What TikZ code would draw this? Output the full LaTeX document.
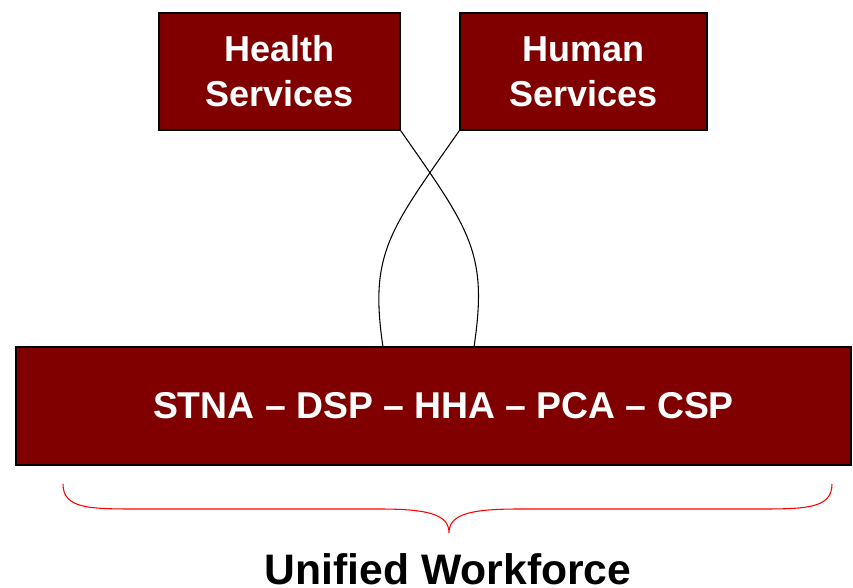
\documentclass[tikz,border=0pt]{standalone}
\usepackage{fontspec}
\setmainfont{Liberation Sans}
\usepackage{tikz}
\usetikzlibrary{shadows}
\definecolor{maroon}{RGB}{128,0,0}
\tikzstyle{svc}=[draw=black, line width=1pt, fill=maroon, text=white, font=\fontsize{27}{33.75}\selectfont\bfseries, align=center, inner sep=0pt, drop shadow={shadow xshift=1pt, shadow yshift=-1pt, fill=black!40, opacity=1}]
\tikzstyle{band}=[svc, font=\fontsize{28}{33}\selectfont\bfseries]
\tikzstyle{link}=[draw=black, line width=0.8pt]
\tikzstyle{brc}=[draw=red, line width=0.8pt]

\begin{document}
\begin{tikzpicture}[x=0.75pt, y=-0.75pt]
	\useasboundingbox (0,0) rectangle (853,587);
	\draw (279.5,71.5) node[svc, minimum width=180.75pt, minimum height=87.75pt] (hs) {Health\\Services};
	\draw (583.5,71.5) node[svc, minimum width=185.25pt, minimum height=87.75pt] (hu) {Human\\Services};
	\draw (433.5,406) node[band, minimum width=626.25pt, minimum height=88.5pt] (wf) {\hspace*{15pt}STNA -- DSP -- HHA -- PCA -- CSP};
	\coordinate (wl) at (383,347);
	\coordinate (wr) at (474,347);
	\draw[link] (hs.south east) .. controls +(70,100) and +(14,-94) .. (wr);
	\draw[link] (hu.south west) .. controls +(-70,100) and +(-14,-94) .. (wl);
	% brace under the band
	\draw[brc] (63,484) .. controls (63,509) and (90,509) .. (140,509) -- (380,509)
		.. controls (430,509) and (449,515) .. (449,533)
		.. controls (449,515) and (468,509) .. (518,509) -- (755,509)
		.. controls (805,509) and (832,509) .. (832,484);
	\draw (448,584) node[anchor=base, inner sep=0pt, font=\fontsize{32}{36}\selectfont\bfseries] (uw) {Unified Workforce};
\end{tikzpicture}
\end{document}
